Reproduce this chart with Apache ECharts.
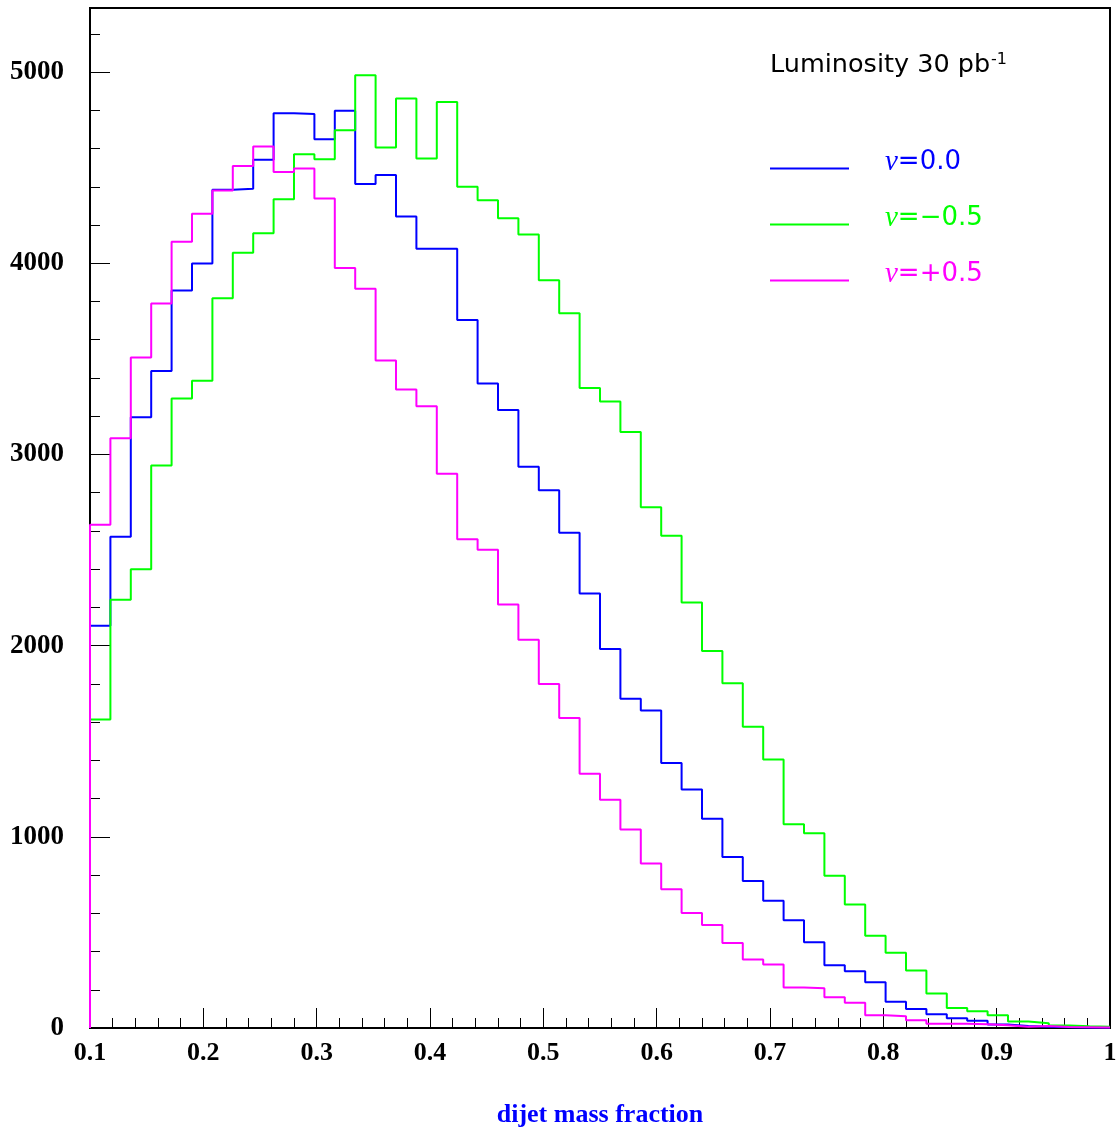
<!DOCTYPE html>
<html>
<head>
<meta charset="utf-8">
<script src="https://cdn.jsdelivr.net/npm/echarts@6/dist/echarts.min.js"></script>
<style>html,body{margin:0;padding:0;background:#fff;}#chart{width:1120px;height:1131px;}</style>
</head>
<body>
<div id="chart"></div>
<script>
// Histogram binning: 50 bins from 0.1 to 1.0
const binLow = 0.1;
const binHigh = 1.0;
const nBins = 50;

// Series names
const seriesNames = ['ν=0.0', 'ν=−0.5', 'ν=+0.5'];
const seriesNu = ['0.0', '−0.5', '+0.5'];

// Bin contents
const nu00 = [2104, 2569, 3195, 3437, 3857, 3998, 4385, 4390, 4541, 4784,
              4780, 4648, 4798, 4414, 4462, 4244, 4076, 4076, 3703, 3371,
              3232, 2935, 2813, 2590, 2272, 1982, 1722, 1661, 1386, 1247,
              1094, 895, 769, 665, 563, 448, 328, 297, 239, 137,
              100, 72, 51, 38, 18, 11, 6, 4, 3, 2];
const nuM05 = [1613, 2240, 2400, 2942, 3292, 3386, 3817, 4055, 4157, 4335,
               4570, 4544, 4695, 4983, 4606, 4861, 4548, 4843, 4400, 4330,
               4235, 4150, 3911, 3739, 3348, 3277, 3117, 2724, 2575, 2226,
               1972, 1803, 1576, 1404, 1066, 1018, 796, 646, 482, 393,
               301, 180, 105, 88, 67, 34, 25, 13, 9, 7];
const nuP05 = [2632, 3085, 3507, 3789, 4113, 4259, 4380, 4509, 4611, 4477,
               4495, 4338, 3975, 3867, 3491, 3339, 3252, 2899, 2557, 2501,
               2215, 2031, 1799, 1622, 1330, 1194, 1038, 860, 726, 602,
               539, 445, 358, 332, 212, 208, 161, 132, 67, 62,
               41, 22, 22, 20, 15, 6, 10, 5, 4, 3];

// Axis tick values
const xTicks = ['0.1','0.2','0.3','0.4','0.5','0.6','0.7','0.8','0.9','1'];
const yTicks = [0, 1000, 2000, 3000, 4000, 5000];
const yMax = 5335;

const colors = ['#0000ff', '#00ff00', '#ff00ff'];

function histPoints(vals) {
  const w = (binHigh - binLow) / nBins;
  const pts = [[binLow, 0]];
  for (let i = 0; i < vals.length; i++) pts.push([binLow + i * w, vals[i]]);
  pts.push([binHigh, vals[vals.length - 1]]);
  return pts;
}

const chart = echarts.init(document.getElementById('chart'), null, {renderer: 'canvas'});

const allVals = [nu00, nuM05, nuP05];
const series = allVals.map((vals, i) => ({
  name: seriesNames[i],
  type: 'line',
  step: 'end',
  showSymbol: false,
  symbol: 'none',
  data: histPoints(vals),
  color: colors[i],
  lineStyle: {color: colors[i], width: 2},
  xAxisIndex: 0,
  yAxisIndex: 0,
  z: 3 + i
}));

function legendItem(i) {
  return {
    name: seriesNames[i],
    textStyle: {
      color: colors[i],
      padding: [0, 0, 12, 31],
      rich: {
        n: {color: colors[i], fontFamily: 'Liberation Serif', fontStyle: 'italic', fontSize: 29},
        v: {color: colors[i], fontFamily: 'DejaVu Sans', fontSize: 26}
      }
    }
  };
}

const option = {
  animation: false,
  backgroundColor: '#ffffff',
  grid: {
    left: 90, right: 10, top: 8, bottom: 103,
    containLabel: false,
    outerBoundsMode: 'none',
    show: true, borderColor: '#000', borderWidth: 2, backgroundColor: 'transparent'
  },
  xAxis: [{
    type: 'value',
    min: binLow, max: binHigh, interval: 0.1,
    name: 'dijet mass fraction',
    nameLocation: 'middle',
    nameGap: 74,
    nameTextStyle: {color: '#0000ff', fontFamily: 'Liberation Serif', fontWeight: 'bold', fontSize: 26},
    axisLine: {show: true, onZero: false, lineStyle: {color: '#000', width: 2}},
    axisTick: {show: true, inside: true, length: 20, lineStyle: {color: '#000', width: 1}},
    minorTick: {show: true, splitNumber: 5, length: 10, lineStyle: {color: '#000', width: 1}},
    splitLine: {show: false},
    minorSplitLine: {show: false},
    axisLabel: {
      show: true, margin: 12,
      fontFamily: 'Liberation Serif', fontWeight: 'bold', fontSize: 26, color: '#000',
      showMinLabel: true, showMaxLabel: true,
      formatter: function (v) {
        const idx = Math.round((v - binLow) / 0.1);
        return xTicks[idx] !== undefined ? xTicks[idx] : '';
      }
    }
  }],
  yAxis: [{
    type: 'value',
    min: 0, max: yMax, interval: 1000,
    position: 'left',
    axisLine: {show: true, onZero: false, lineStyle: {color: '#000', width: 2}},
    axisTick: {show: true, inside: true, length: 20, lineStyle: {color: '#000', width: 1}},
    splitLine: {show: false},
    axisLabel: {
      show: true, margin: 26,
      fontFamily: 'Liberation Serif', fontWeight: 'bold', fontSize: 27, color: '#000',
      showMaxLabel: false,
      formatter: function (v) { return yTicks.indexOf(v) >= 0 ? String(v) : ''; }
    }
  }, {
    type: 'value',
    min: 0, max: yMax, interval: 200,
    position: 'left',
    offset: 0,
    axisLine: {show: false},
    axisTick: {show: true, inside: true, length: 10, lineStyle: {color: '#000', width: 1}},
    splitLine: {show: false},
    axisLabel: {show: false}
  }],
  legend: {
    orient: 'vertical',
    left: 765, top: 143,
    itemWidth: 79, itemHeight: 2, itemGap: 27,
    icon: 'rect',
    selectedMode: false,
    formatter: function (name) {
      const i = seriesNames.indexOf(name);
      return '{n|ν}{v|=' + seriesNu[i] + '}';
    },
    data: [legendItem(0), legendItem(1), legendItem(2)]
  },
  graphic: [{
    type: 'text',
    left: 770, top: 50,
    style: {
      text: '{a|Luminosity 30 pb}{b|-1}',
      rich: {
        a: {fontFamily: 'DejaVu Sans', fontSize: 25.5, fill: '#000', lineHeight: 30},
        b: {fontFamily: 'DejaVu Sans', fontSize: 16, fill: '#000', verticalAlign: 'top', lineHeight: 16, padding: [2, 0, 0, 1]}
      }
    }
  }],
  series: series
};

chart.setOption(option);
</script>
</body>
</html>
